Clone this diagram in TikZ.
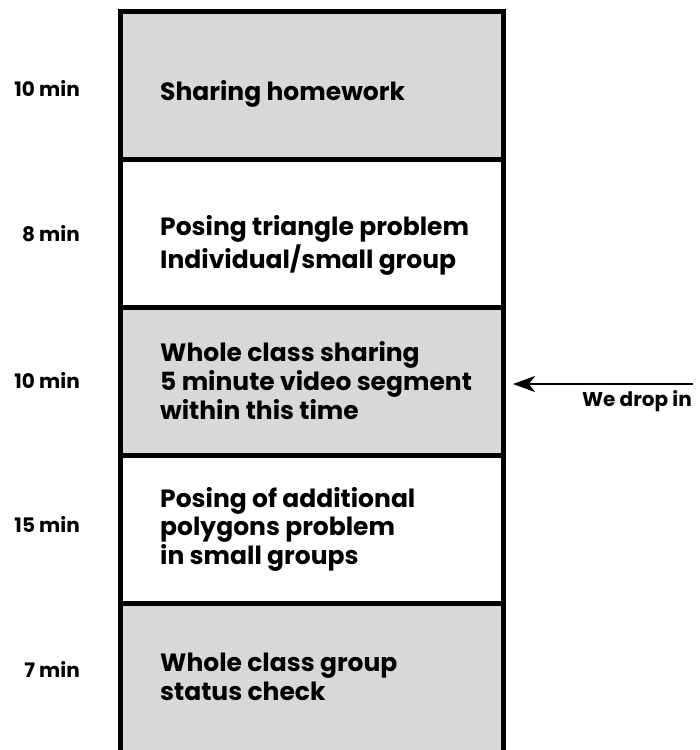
\documentclass[tikz,border=0pt]{standalone}
\usepackage{fontspec}
\setmainfont{Poppins}
\usetikzlibrary{arrows.meta}
\definecolor{panelgray}{RGB}{216,216,216}
\tikzset{
  panel/.style={draw=black, line width=5pt, inner sep=0pt, outer sep=0pt,
    minimum width=382.5pt, minimum height=148.2pt, anchor=north west},
  graypanel/.style={panel, fill=panelgray},
  whitepanel/.style={panel, fill=white},
  activity/.style={anchor=west, align=left, inner sep=0pt,
    font=\bfseries\fontsize{25}{28.7}\selectfont},
  duration/.style={anchor=base east, inner sep=0pt,
    font=\bfseries\fontsize{20}{23}\selectfont},
  note/.style={anchor=base east, inner sep=0pt,
    font=\bfseries\fontsize{20}{23}\selectfont},
}
\begin{document}
\begin{tikzpicture}[x=1pt, y=-1pt]
  \useasboundingbox (0,0) rectangle (700,750);
  \clip (0,0) rectangle (700,750);

  % stacked lesson phases
  \node[graypanel]  (s1) at (120.5,11) {};
  \node[whitepanel] (s2) at (120.5,159.2) {};
  \node[graypanel]  (s3) at (120.5,307.4) {};
  \node[whitepanel] (s4) at (120.5,455.6) {};
  \node[graypanel, minimum height=160pt] (s5) at (120.5,603.8) {};

  % phase descriptions
  \node[activity] (t1) at (160,95) {\strut Sharing homework};
  \node[activity] (t2) at (160,246) {\strut Posing triangle problem\\\strut Individual/small group};
  \node[activity] (t3) at (160,384.6) {\strut Whole class sharing\\\strut 5 minute video segment\\\strut within this time};
  \node[activity] (t4) at (160,530) {\strut Posing of additional\\\strut polygons problem\\\strut in small groups};
  \node[activity] (t5) at (160,680) {\strut Whole class group\\\strut status check};

  % durations
  \node[duration] (d1) at (80,96) {10 min};
  \node[duration] (d2) at (80,241.7) {8 min};
  \node[duration] (d3) at (80,388) {10 min};
  \node[duration] (d4) at (80,532) {15 min};
  \node[duration] (d5) at (80,677) {7 min};

  % entry point of the video
  \coordinate (dropstart) at (693,384);
  \node[note] (drop) at (692,406.7) {We drop in};
  \draw[line width=2.2pt, -{Stealth[length=22pt, width=16pt, inset=6pt]}]
    (dropstart) -- ([xshift=10pt]s3.east |- dropstart);
\end{tikzpicture}
\end{document}
